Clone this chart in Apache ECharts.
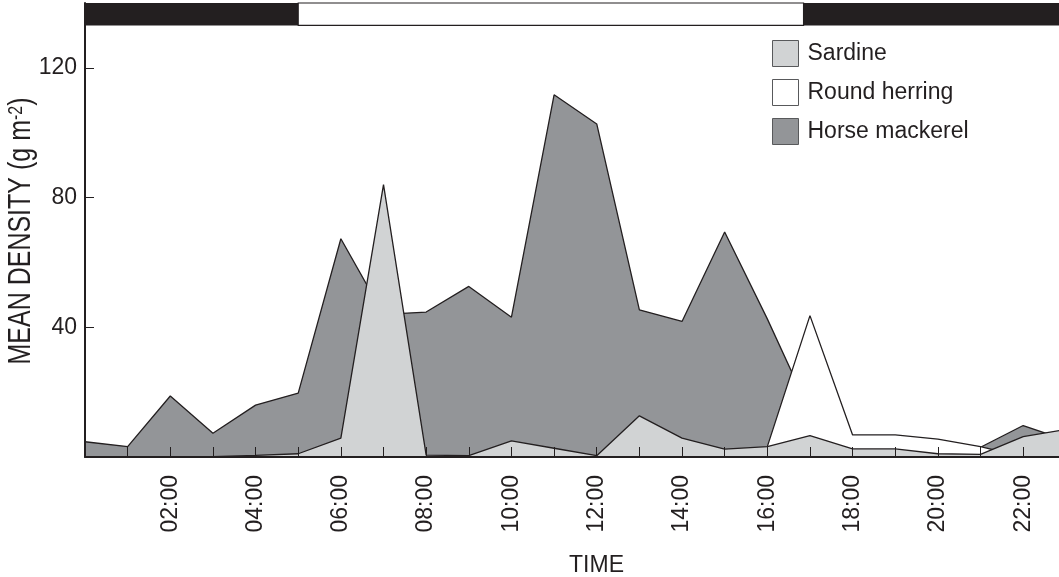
<!DOCTYPE html>
<html>
<head>
<meta charset="utf-8">
<title>Mean fish density by time of day</title>
<script src="https://cdn.jsdelivr.net/npm/echarts@6/dist/echarts.min.js"></script>
<style>
  html, body { margin: 0; padding: 0; background: #fff; }
  #chart { width: 1059px; height: 577px; }
</style>
</head>
<body>
<div id="chart"></div>
<script>
// Hour of day for each survey sample
const hours = [0, 1, 2, 3, 4, 5, 6, 7, 8, 9, 10, 11, 12, 13, 14, 15, 16, 17, 18, 19, 20, 21, 22, 23];

// Mean density (g m-2) per species and hour
const sardine       = [0, 0, 0, 0.1, 0.5, 1.0, 5.8, 84, 0.6, 0.4, 5.0, 2.7, 0.4, 12.7, 5.8, 2.4, 3.2, 6.6, 2.5, 2.5, 1.0, 0.8, 6.3, 8.5];
const roundHerring  = [0, 0, 0, 0, 0, 0, 0, 0, 0, 0, 0, 0, 0, 0, 0, 0, 3.2, 43.6, 6.8, 6.8, 5.5, 3.2, 0, 0];
const horseMackerel = [4.7, 3.2, 18.8, 7.3, 16.0, 19.7, 67.3, 44, 44.7, 52.6, 43.1, 111.7, 102.7, 45.4, 41.8, 69.4, 42.6, 14, 5, 4, 3, 3, 9.7, 5.2];

// Axis labels
const timeTickHours = [2, 4, 6, 8, 10, 12, 14, 16, 18, 20, 22];
const timeTickLabels = ['02:00', '04:00', '06:00', '08:00', '10:00', '12:00', '14:00', '16:00', '18:00', '20:00', '22:00'];
const densityTicks = [40, 80, 120];

// Sunrise and sunset (decimal hours) for the day/night bar
const daylight = [5.0, 16.85];

const INK = '#231f20';
const FONT = "'Liberation Sans', Arial, Helvetica, sans-serif";
const X_MAX = 22.84;
const Y_MAX = 140;
const BAR_BOTTOM = 133.1;

const colors = {
  sardine: '#d1d3d4',
  roundHerring: '#ffffff',
  horseMackerel: '#939598'
};

// Each species is an overlapping (unstacked) filled area; z keeps later species in front
function areaSeries(name, values, fill, z, extra) {
  return Object.assign({
    type: 'line',
    name: name,
    z: z,
    data: hours.map((h, i) => [h, values[i]]),
    symbol: 'none',
    showSymbol: false,
    lineStyle: { color: INK, width: 1.3 },
    areaStyle: { color: fill, opacity: 1 },
    itemStyle: { color: fill },
    emphasis: { disabled: true },
    silent: true,
    clip: true
  }, extra || {});
}

const chart = echarts.init(document.getElementById('chart'), null, { renderer: 'canvas' });

chart.setOption({
  animation: false,
  backgroundColor: '#fff',
  textStyle: { fontFamily: FONT },
  grid: { left: 85, right: 0, top: 3, bottom: 120, containLabel: false, outerBoundsMode: 'none' },
  xAxis: {
    type: 'value',
    min: 0,
    max: X_MAX,
    interval: 1,
    z: 10,
    axisLine: { show: true, onZero: false, lineStyle: { color: INK, width: 2 } },
    axisTick: { show: true, inside: true, length: 10, lineStyle: { color: INK, width: 1 } },
    axisLabel: {
      rotate: 90,
      margin: 18,
      fontSize: 23,
      color: INK,
      fontFamily: FONT,
      showMaxLabel: false,
      formatter: function (v) {
        const idx = timeTickHours.indexOf(v);
        return idx >= 0 ? timeTickLabels[idx] : '';
      }
    },
    splitLine: { show: false },
    name: 'TIME',
    nameLocation: 'middle',
    nameGap: 97,
    nameTextStyle: { fontSize: 23, color: INK, fontFamily: FONT, padding: [0, 0, 0, 49] }
  },
  yAxis: {
    type: 'value',
    min: 0,
    max: Y_MAX,
    interval: 40,
    z: 10,
    axisLine: { show: true, lineStyle: { color: INK, width: 2 } },
    axisTick: { show: true, inside: true, length: 9, lineStyle: { color: INK, width: 1 } },
    axisLabel: {
      fontSize: 23,
      color: INK,
      margin: 8,
      fontFamily: FONT,
      formatter: function (v) { return densityTicks.indexOf(v) >= 0 ? String(v) : ''; }
    },
    splitLine: { show: false }
  },
  legend: {
    orient: 'vertical',
    left: 767,
    top: 35,
    itemWidth: 26,
    itemHeight: 26,
    itemGap: 12,
    icon: 'rect',
    selectedMode: false,
    textStyle: { fontSize: 23, color: INK, fontFamily: FONT, padding: [0, 0, 0, 4] },
    data: [
      { name: 'Sardine', itemStyle: { color: colors.sardine, borderColor: '#58595b', borderWidth: 1 } },
      { name: 'Round herring', itemStyle: { color: colors.roundHerring, borderColor: '#58595b', borderWidth: 1 } },
      { name: 'Horse mackerel', itemStyle: { color: colors.horseMackerel, borderColor: '#58595b', borderWidth: 1 } }
    ]
  },
  graphic: [{
    type: 'text',
    x: 37,
    y: 231,
    rotation: Math.PI / 2,
    scaleY: 1.22,
    silent: true,
    style: {
      text: 'MEAN DENSITY (g m{sup|-2})',
      font: '25px ' + FONT,
      fill: INK,
      align: 'center',
      verticalAlign: 'bottom',
      rich: {
        sup: { fontSize: 16, fontFamily: FONT, fill: INK, verticalAlign: 'top', lineHeight: 25 }
      }
    }
  }],
  series: [
    areaSeries('Horse mackerel', horseMackerel, colors.horseMackerel, 2, {
      markArea: {
        silent: true,
        label: { show: false },
        data: [
          [{ xAxis: 0, yAxis: BAR_BOTTOM, itemStyle: { color: INK, opacity: 1 } }, { xAxis: daylight[0], yAxis: Y_MAX }],
          [{ xAxis: daylight[0], yAxis: BAR_BOTTOM, itemStyle: { color: '#ffffff', opacity: 1, borderColor: INK, borderWidth: 1.2 } }, { xAxis: daylight[1], yAxis: Y_MAX }],
          [{ xAxis: daylight[1], yAxis: BAR_BOTTOM, itemStyle: { color: INK, opacity: 1 } }, { xAxis: X_MAX, yAxis: Y_MAX }]
        ]
      }
    }),
    areaSeries('Round herring', roundHerring, colors.roundHerring, 3),
    areaSeries('Sardine', sardine, colors.sardine, 4)
  ]
});
</script>
</body>
</html>
